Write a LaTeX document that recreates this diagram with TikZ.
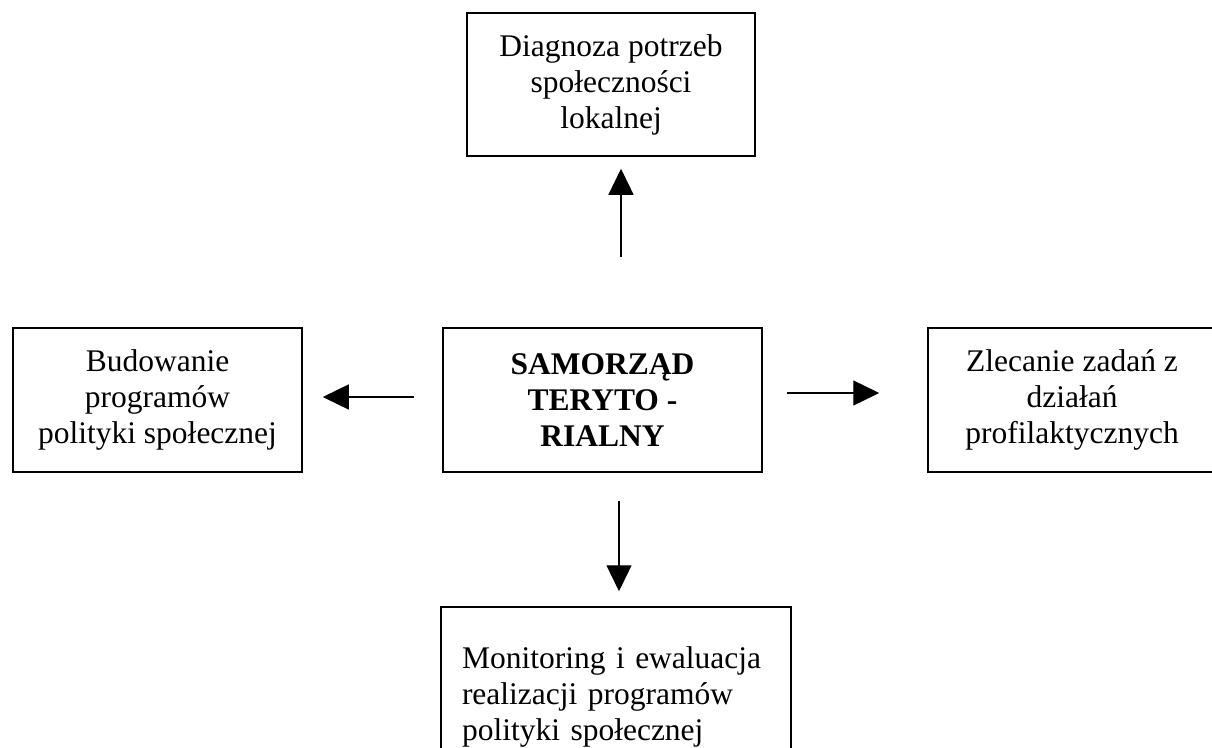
\documentclass[tikz,border=0pt]{standalone}
\usepackage{fontspec}
\setmainfont{Liberation Serif}
\usetikzlibrary{arrows.meta}
\begin{document}
\begin{tikzpicture}[x=1pt,y=-1pt,
  box/.style={draw,line width=1.5pt,inner sep=0pt,align=center,
    font=\fontsize{31.5pt}{36pt}\selectfont},
  arr/.style={line width=1.3pt,-{Triangle[length=26pt,width=25pt]}}]
\useasboundingbox (0,0) rectangle (1212,747);
\clip (0,0) rectangle (1212,747);
\node[box,minimum width=288pt,minimum height=143pt] (T) at (611,84.5)
  {Diagnoza potrzeb\\społeczności\\lokalnej};
\node[box,minimum width=289pt,minimum height=144pt] (L) at (157.5,400)
  {Budowanie\\programów\\polityki społecznej};
\node[box,minimum width=319pt,minimum height=144pt,font=\fontsize{31.5pt}{36pt}\selectfont\bfseries] (C) at (602.5,400)
  {SAMORZĄD\\TERYTO -\\RIALNY};
\node[box,minimum width=288pt,minimum height=144pt] (R) at (1072,400)
  {Zlecanie zadań z\\działań\\profilaktycznych};
\node[box,minimum width=350pt,minimum height=180pt,align=left,inner xsep=21pt,text width=308pt] (B) at (616,697)
  {Monitoring i ewaluacja\\realizacji programów\\polityki społecznej};
\coordinate (ax) at (621,0);
\coordinate (bx) at (619,0);
\coordinate (ly) at (0,397);
\coordinate (ry) at (0,393);
\draw[arr,shorten <=70pt,shorten >=12pt] (C.north -| ax) -- (T.south -| ax);
\draw[arr,shorten <=28pt,shorten >=15pt] (C.south -| bx) -- (B.north -| bx);
\draw[arr,shorten <=28pt,shorten >=20pt] (C.west |- ly) -- (L.east |- ly);
\draw[arr,shorten <=24pt,shorten >=48pt] (C.east |- ry) -- (R.west |- ry);
\end{tikzpicture}
\end{document}
